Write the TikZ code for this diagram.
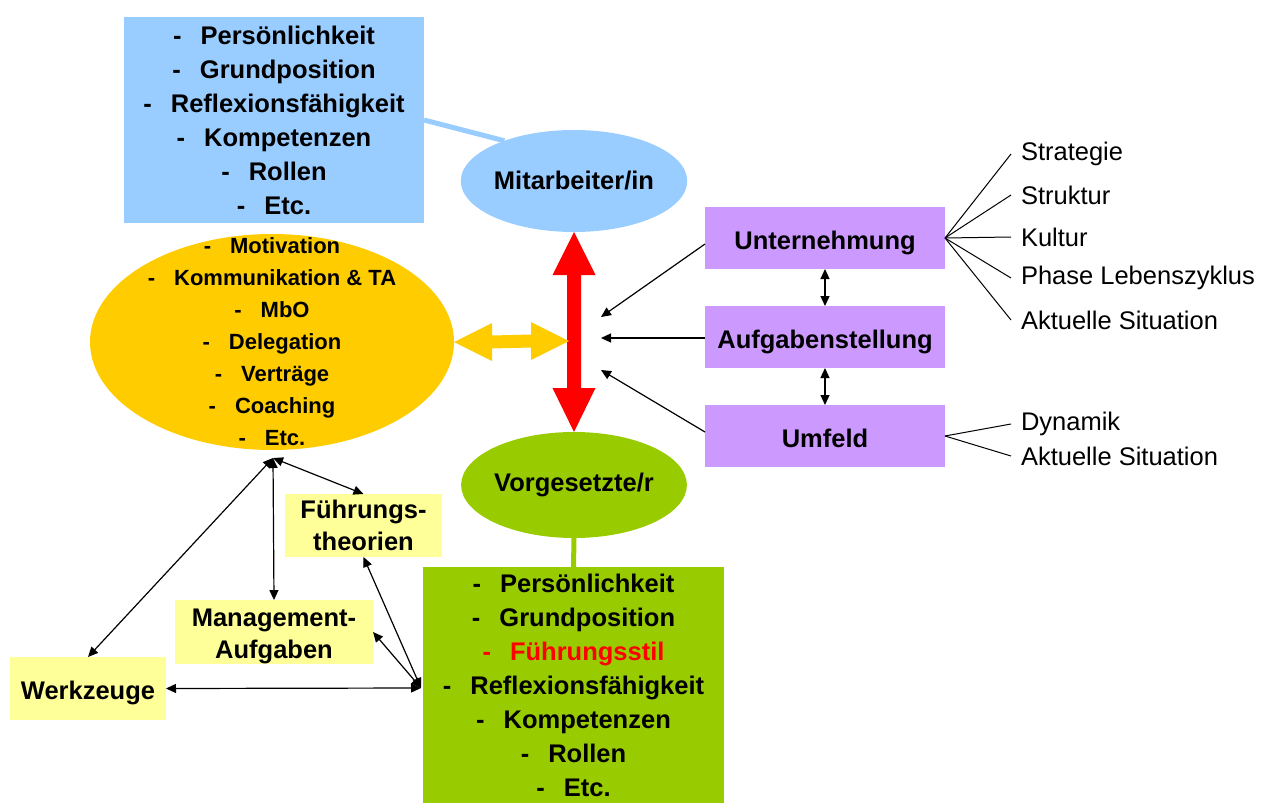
\documentclass[tikz,border=0pt]{standalone}
\usepackage{fontspec}
\setmainfont{Liberation Sans}
\usetikzlibrary{arrows.meta,shapes.geometric,calc}
\definecolor{cblue}{HTML}{99CCFF}
\definecolor{corange}{HTML}{FFCC00}
\definecolor{cgreen}{HTML}{99CC00}
\definecolor{cpurple}{HTML}{CC99FF}
\definecolor{cyellow}{HTML}{FFFF99}
\definecolor{cred}{HTML}{FF0000}
\newcommand\dashitem[1]{-\hspace{19pt}#1}
\newcommand\dashsmall[1]{-\hspace{19pt}#1}
\begin{document}
\begin{tikzpicture}[x=1pt,y=-1pt,
  every node/.style={inner sep=0pt,outer sep=0pt},
  bigtext/.style={font=\bfseries\fontsize{25.5}{34}\selectfont,align=center},
  midtext/.style={font=\bfseries\fontsize{22}{32}\selectfont,align=center},
  rtxt/.style={anchor=west,inner xsep=10pt,font=\fontsize{25.5}{28}\selectfont},
  listbox/.style={rectangle,bigtext,minimum width=300pt},
  pbox/.style={rectangle,fill=cpurple,bigtext,minimum width=240pt,minimum height=62pt,text height=22pt,text depth=0pt},
  ybox/.style={rectangle,fill=cyellow,font=\bfseries\fontsize{25.5}{32}\selectfont,align=center},
  oval/.style={ellipse,bigtext},
  dbl/.style={line width=1.2pt,{Triangle[length=10pt,width=9pt]}-{Triangle[length=10pt,width=9pt]}},
  sgl/.style={line width=1.2pt,-{Triangle[length=10pt,width=9pt]}},
  fan/.style={line width=1pt}
]
\useasboundingbox (0,0) rectangle (1270,803);

% Mitarbeiter side
\node[listbox,fill=cblue,minimum height=206pt] (mbox) at (274,120)
  {\dashitem{Persönlichkeit}\\\dashitem{Grundposition}\\\dashitem{Reflexionsfähigkeit}\\\dashitem{Kompetenzen}\\\dashitem{Rollen}\\\dashitem{Etc.}};
\node[oval,fill=cblue,minimum width=198pt,minimum height=102pt] (mit) at (574,181) {Mitarbeiter/in};
\draw[cblue,line width=5pt] (mbox.east) -- (mit.150);

% Vorgesetzte side
\node[oval,fill=cgreen,minimum width=198pt,minimum height=106pt] (vor) at (574,485) {Vorgesetzte/r};
\node[listbox,fill=cgreen,minimum width=301pt,minimum height=236pt] (g) at (573.5,685)
  {\dashitem{Persönlichkeit}\\\dashitem{Grundposition}\\\textcolor{cred}{\dashitem{Führungsstil}}\\\dashitem{Reflexionsfähigkeit}\\\dashitem{Kompetenzen}\\\dashitem{Rollen}\\\dashitem{Etc.}};
\draw[cgreen,line width=5pt] (vor.south) -- (g.north);

% orange ellipse
\node[ellipse,fill=corange,minimum width=364pt,minimum height=216pt] (or) at (272,342) {};
\node[midtext] (ortext) at (272,342)
  {\dashsmall{Motivation}\\\dashsmall{Kommunikation \& TA}\\\dashsmall{MbO}\\\dashsmall{Delegation}\\\dashsmall{Verträge}\\\dashsmall{Coaching}\\\dashsmall{Etc.}};

% red double arrow between Mitarbeiter/in and Vorgesetzte/r
\fill[cred] (mit.south) -- ($(mit.south)+(21.5,43)$) -- ($(mit.south)+(7,43)$)
  -- ($(vor.north)+(7,-44)$) -- ($(vor.north)+(21.5,-44)$) -- (vor.north)
  -- ($(vor.north)+(-21.5,-44)$) -- ($(vor.north)+(-7,-44)$)
  -- ($(mit.south)+(-7,43)$) -- ($(mit.south)+(-21.5,43)$) -- cycle;

% yellow double arrow
\coordinate (yr) at (569,341);
\fill[corange] (or.east) -- ($(or.east)+(38,-19)$) -- ($(or.east)+(38,-6.5)$)
  -- ($(yr)+(-38,-6.5)$) -- ($(yr)+(-38,-19)$) -- (yr) -- ($(yr)+(-38,19)$)
  -- ($(yr)+(-38,6.5)$) -- ($(or.east)+(38,6.5)$) -- ($(or.east)+(38,19)$) -- cycle;

% purple boxes
\node[pbox] (u) at (825,238) {Unternehmung};
\node[pbox] (a) at (825,337) {Aufgabenstellung};
\node[pbox] (um) at (825,436) {Umfeld};
\draw[dbl] (u.south) -- (a.north);
\draw[dbl] (a.south) -- (um.north);

\coordinate (p1) at (601,317);
\coordinate (p2) at (601,338);
\coordinate (p3) at (601,370);
\draw[sgl] ($(u.west)+(0,6)$) -- (p1);
\draw[sgl] ($(a.west)+(0,1)$) -- (p2);
\draw[sgl] ($(um.west)+(0,-4)$) -- (p3);

% right side texts
\node[rtxt] (t1) at (1011,154) {Strategie};
\node[rtxt] (t2) at (1011,195) {Struktur};
\node[rtxt] (t3) at (1011,237) {Kultur};
\node[rtxt] (t4) at (1011,278) {Phase Lebenszyklus};
\node[rtxt] (t5) at (1011,320) {Aktuelle Situation};
\node[rtxt] (t6) at (1011,424) {Dynamik};
\node[rtxt] (t7) at (1011,456) {Aktuelle Situation};
\foreach \t in {t1,t2,t3,t4,t5} \draw[fan] (u.east) -- (\t.west);
\foreach \t in {t6,t7} \draw[fan] (um.east) -- (\t.west);

% yellow boxes
\node[ybox,minimum width=157pt,minimum height=63pt] (ft) at (363.5,525.5) {Führungs-\\theorien};
\node[ybox,minimum width=198pt,minimum height=62pt] (ma) at (274,632) {\rule{0pt}{26.5pt}Management-\\Aufgaben};
\node[ybox,minimum width=156pt,minimum height=63pt,text height=21pt,text depth=0pt] (wz) at (88,688.5) {Werkzeuge};

\coordinate (ob) at (273,458);
\coordinate (gl) at (421,688);
\draw[dbl] (ob) -- (wz.north);
\draw[dbl] (ob) -- (ma.north);
\draw[dbl] (ob) -- (ft.north);
\draw[dbl] (gl) -- (ft.south);
\draw[dbl] (gl) -- (ma.east);
\draw[dbl] (gl) -- (wz.east);
\end{tikzpicture}
\end{document}
